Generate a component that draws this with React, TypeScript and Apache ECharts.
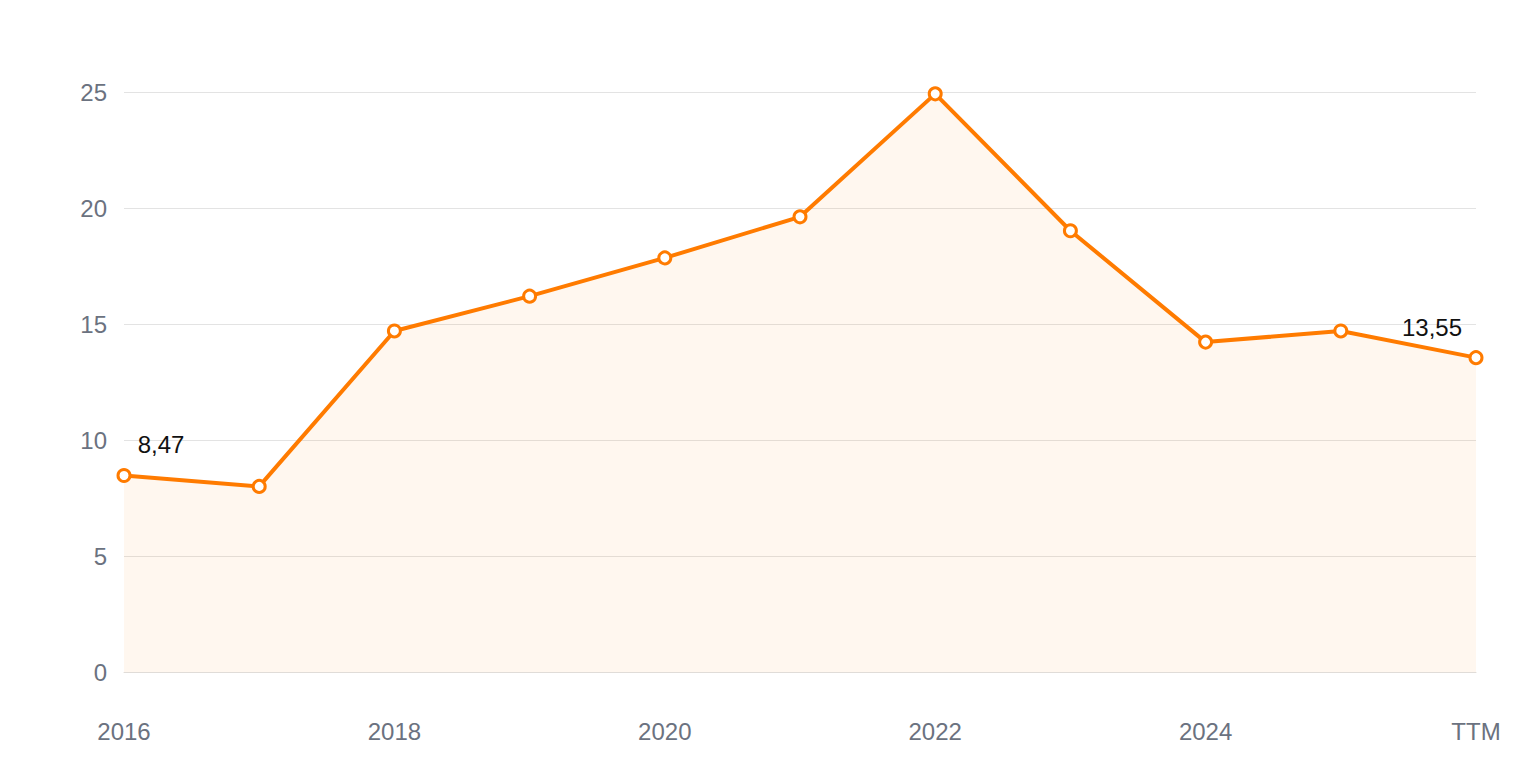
import React, { useEffect, useRef } from "react";
import * as echarts from "echarts";

const categories = ["2016", "2017", "2018", "2019", "2020", "2021", "2022", "2023", "2024", "2025", "TTM"];
const values = [8.47, 8.0, 14.7, 16.2, 17.85, 19.62, 24.92, 19.02, 14.22, 14.7, 13.55];
const yTicks = { min: 0, max: 25, interval: 5 };

const ORANGE = "#ff7b00";

export default function App() {
  const ref = useRef<HTMLDivElement>(null);
  useEffect(() => {
    if (!ref.current) return;
    const chart = echarts.init(ref.current, undefined, { renderer: "svg" });
    const last = values.length - 1;
    const fmt = (p: any) => String(p.value).replace(".", ",");
    const data = values.map((v, i) => {
      if (i === 0) {
        return { value: v, label: { show: true, position: "top", offset: [37, -6], formatter: fmt } };
      }
      if (i === last) {
        return { value: v, label: { show: true, position: "top", offset: [-44, -6], formatter: fmt } };
      }
      return { value: v };
    });
    chart.setOption({
      animation: false,
      textStyle: { fontFamily: "Liberation Sans, Arial, sans-serif" },
      grid: { left: 116, right: 36, top: 84, bottom: 80, containLabel: false },
      xAxis: {
        type: "category",
        data: categories,
        boundaryGap: false,
        axisLine: { show: true, lineStyle: { color: "#e0dcd8", width: 1 } },
        axisTick: { show: false },
        axisLabel: { interval: 1, color: "#6b7280", fontSize: 24, margin: 47 },
        splitLine: { show: false },
      },
      yAxis: {
        type: "value",
        min: yTicks.min,
        max: yTicks.max,
        interval: yTicks.interval,
        axisLine: { show: false },
        axisTick: { show: false },
        axisLabel: { color: "#6b7280", fontSize: 24, margin: 17 },
        splitLine: { lineStyle: { color: "#e3e3e3", width: 1 } },
      },
      series: [
        {
          type: "line",
          data,
          symbol: "circle",
          symbolSize: 12,
          itemStyle: { color: "#ffffff", borderColor: ORANGE, borderWidth: 3 },
          lineStyle: { color: ORANGE, width: 4 },
          areaStyle: { color: "rgba(255,123,0,0.09)" },
          label: { color: "#111111", fontSize: 24 },
          emphasis: { disabled: true },
        },
      ],
    });
    return () => chart.dispose();
  }, []);
  return <div ref={ref} style={{ width: 1504, height: 744 }} />;
}
